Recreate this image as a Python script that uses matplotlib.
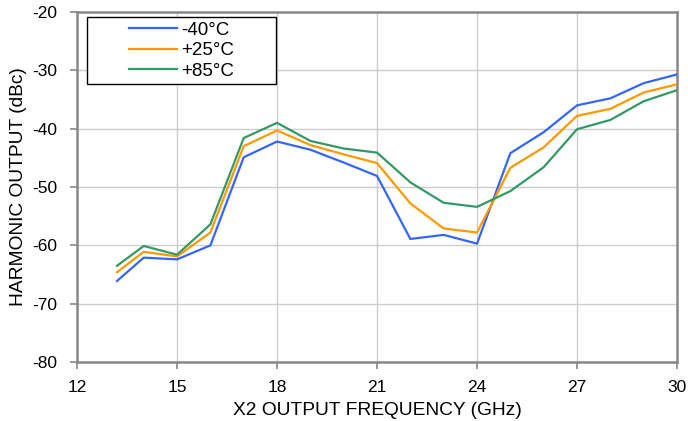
import matplotlib
matplotlib.use("Agg")
import matplotlib.pyplot as plt
from matplotlib.patches import Rectangle

plt.rcParams['font.family'] = ['Liberation Sans', 'DejaVu Sans']
plt.rcParams['axes.unicode_minus'] = False

freq = [13.2, 14, 15, 16, 17, 18, 19, 20, 21, 22, 23, 24, 25, 26, 27, 28, 29, 30]
m40 = [-66.1, -62.1, -62.4, -60.0, -44.9, -42.2, -43.6, -45.8, -48.1, -58.9, -58.2, -59.7,
       -44.2, -40.6, -36.0, -34.8, -32.2, -30.7]
p25 = [-64.6, -61.1, -61.9, -57.8, -43.0, -40.3, -42.8, -44.4, -45.9, -52.8, -57.1, -57.8,
       -46.7, -43.2, -37.8, -36.6, -33.8, -32.4]
p85 = [-63.5, -60.1, -61.6, -56.4, -41.6, -39.0, -42.1, -43.4, -44.1, -49.2, -52.7, -53.4,
       -50.7, -46.6, -40.1, -38.5, -35.3, -33.4]
labels = ['-40°C', '+25°C', '+85°C']
colors = ['#3366FF', '#FF9900', '#339966']
xticks = [12, 15, 18, 21, 24, 27, 30]
yticks = [-80, -70, -60, -50, -40, -30, -20]

fig = plt.figure(figsize=(6.88, 4.21), dpi=100)
ax = fig.add_axes([0.112, 0.140, 0.872, 0.8315])

for y, lab, c in zip([m40, p25, p85], labels, colors):
    ax.plot(freq, y, color=c, lw=1.6, label=lab, zorder=3)

ax.set_xlim(12, 30)
ax.set_ylim(-80, -20)
ax.set_xticks(xticks)
ax.set_yticks(yticks)
ax.grid(True, color='#cccccc', lw=1.0, zorder=0)
ax.set_axisbelow(True)
for s in ax.spines.values():
    s.set_color('#888888')
    s.set_linewidth(1.8)
ax.tick_params(axis='both', colors='#888888', length=5, width=1.2, labelcolor='black',
               labelsize=12.5)
ax.tick_params(axis='x', pad=8)
ax.tick_params(axis='y', pad=9)
ax.set_xlabel('X2 OUTPUT FREQUENCY (GHz)', fontsize=13.8, labelpad=5)
ax.set_ylabel('HARMONIC OUTPUT (dBc)', fontsize=13.8, labelpad=4)

# legend box
rect = Rectangle((0.0167, 0.794), 0.315, 0.191, transform=ax.transAxes,
                 facecolor='white', edgecolor='black', lw=1.0, zorder=4)
ax.add_patch(rect)
leg = ax.legend(loc='center', bbox_to_anchor=(0.0167 + 0.315 / 2, 0.794 + 0.191 / 2),
                frameon=False, fontsize=13.5, handlelength=2.56, handletextpad=0.2,
                labelspacing=0.18, borderpad=0.2)
leg.set_zorder(5)

fig.savefig('out.png', dpi=100)
